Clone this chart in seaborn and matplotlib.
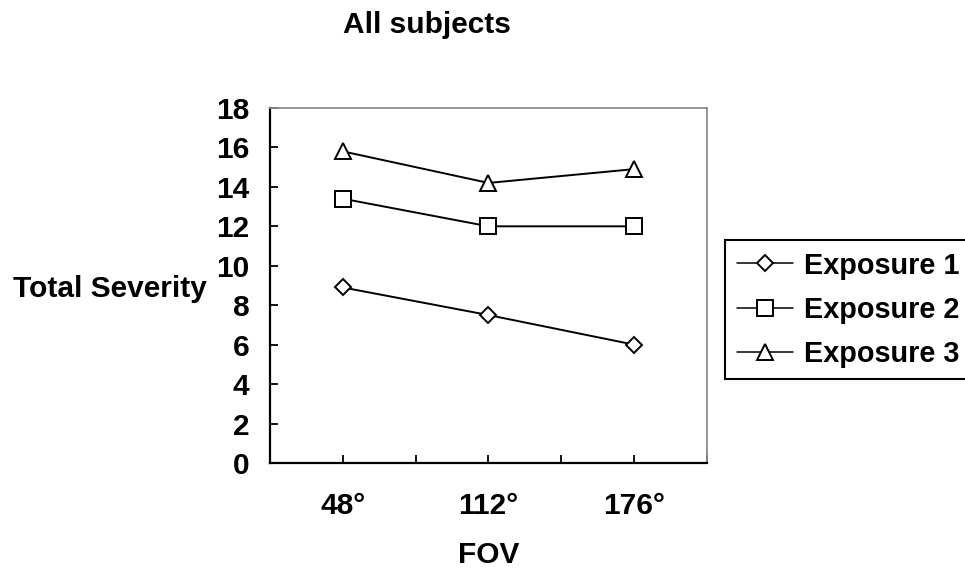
import numpy as np
import pandas as pd
import matplotlib
matplotlib.use('Agg')
import matplotlib.pyplot as plt
import seaborn as sns

# ---- data ----
fov = ['48°', '112°', '176°']
series_names = ['Exposure 1', 'Exposure 2', 'Exposure 3']
exposure_1 = [8.9, 7.5, 6.0]
exposure_2 = [13.4, 12.0, 12.0]
exposure_3 = [15.8, 14.2, 14.9]
y_ticks = [0, 2, 4, 6, 8, 10, 12, 14, 16, 18]

sns.set_theme(style='white')
plt.rcParams['font.family'] = ['Liberation Sans', 'DejaVu Sans']
plt.rcParams['font.weight'] = 'bold'
plt.rcParams['text.color'] = 'black'
plt.rcParams['axes.labelcolor'] = 'black'
plt.rcParams['xtick.color'] = 'black'
plt.rcParams['ytick.color'] = 'black'
FS = 21.5
LFS = 20.8

df = pd.DataFrame({
    'FOV': fov * 3,
    'Severity': exposure_1 + exposure_2 + exposure_3,
    'Series': np.repeat(series_names, len(fov)),
})
df['pos'] = pd.Categorical(df['FOV'], categories=fov).codes

fig = plt.figure(figsize=(9.65, 5.75), dpi=100)
ax = fig.add_axes([0.2798, 0.1948, 0.4528, 0.6174])

markers = {'Exposure 1': ('D', 7.8), 'Exposure 2': ('s', 11.5), 'Exposure 3': ('^', 11.5)}
for name in series_names:
    sub = df[df['Series'] == name]
    m, ms = markers[name]
    sns.lineplot(data=sub, x='pos', y='Severity', ax=ax, color='black',
                 marker=m, markersize=ms, markerfacecolor='white',
                 markeredgecolor='black', markeredgewidth=1.4,
                 linewidth=1.4, label=name, legend=False)

ax.set_xlim(-0.5, len(fov) - 0.5)
ax.set_ylim(0, 18)
ax.set_yticks(y_ticks)
ax.set_yticklabels([str(v) for v in y_ticks], fontsize=FS, fontweight='bold')
ax.set_xticks(range(len(fov)))
ax.set_xticklabels(fov, fontsize=FS, fontweight='bold')
ax.set_xticks(np.arange(-0.5, len(fov), 1.0), minor=True)
ax.tick_params(axis='both', which='both', direction='in', length=6, width=1.3,
               color='black', bottom=True, left=True)
ax.tick_params(axis='x', which='major', pad=21)
ax.tick_params(axis='y', which='major', pad=15)
ax.grid(False)

for s in ['left', 'bottom']:
    ax.spines[s].set_color('black')
    ax.spines[s].set_linewidth(1.6)
for s in ['top', 'right']:
    ax.spines[s].set_color('#8c8c8c')
    ax.spines[s].set_linewidth(1.3)

ax.set_ylabel('Total Severity', rotation=0, fontsize=FS, fontweight='bold',
              ha='center', va='baseline')
ax.yaxis.set_label_coords(-0.366, 0.4676)
ax.set_xlabel('FOV', fontsize=FS, fontweight='bold', va='baseline')
ax.xaxis.set_label_coords(0.5, -0.2817)
ax.set_title('All subjects', x=0.359, y=1.211, pad=0, fontsize=FS,
             fontweight='bold', va='baseline')

handles, labels = ax.get_legend_handles_labels()
leg = fig.legend(handles, labels, loc='upper left', bbox_to_anchor=(0.7513, 0.5826),
                 bbox_transform=fig.transFigure, fontsize=LFS, frameon=True,
                 fancybox=False, edgecolor='black', framealpha=1,
                 handlelength=1.97, handletextpad=0.38, labelspacing=0.56,
                 borderpad=0.40, borderaxespad=0)
leg.get_frame().set_linewidth(1.5)
for t in leg.get_texts():
    t.set_fontweight('bold')
for h in leg.legend_handles:
    h.set_linewidth(1.1)

fig.savefig('out.png', dpi=100, facecolor='white')
